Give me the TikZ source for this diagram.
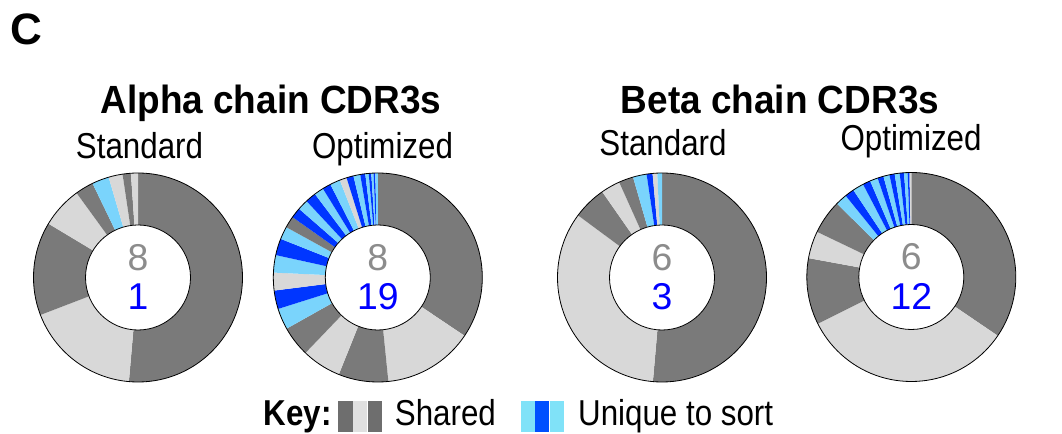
\documentclass[tikz,border=0pt]{standalone}
\usepackage{fontspec}
\setmainfont{Liberation Sans}
\usetikzlibrary{positioning}

\definecolor{sharedark}{HTML}{7A7A7A}
\definecolor{sharelight}{HTML}{D8D8D8}
\definecolor{uniqlight}{HTML}{7AD4FC}
\definecolor{uniqdark}{HTML}{0036FF}
\definecolor{keydark}{HTML}{6E6E6E}
\definecolor{keylight}{HTML}{E0E0E0}
\definecolor{keysky}{HTML}{80E2F8}
\definecolor{keyblue}{HTML}{0050FF}
\definecolor{numgrey}{HTML}{8C8C8C}
\definecolor{numblue}{HTML}{0000FF}

% narrow, tall lettering as in the figure
\newcommand{\narrowtext}[1]{\scalebox{0.87}[1]{#1}}
\newcommand{\titletext}[1]{\scalebox{0.94}[1]{#1}}

\begin{document}
\begin{tikzpicture}[
		x=0.75pt,y=0.75pt,
		every node/.style={inner sep=0pt},
		panel/.style={font=\bfseries\fontsize{33}{36}\selectfont},
		title/.style={font=\bfseries\fontsize{29.5}{33}\selectfont,anchor=base},
		subtitle/.style={font=\fontsize{27}{31}\selectfont,anchor=base},
		hole/.style={
			circle,
			draw=black,
			line width=0.6pt,
			fill=white,
			minimum size=78.75pt
		},
		count/.style={font=\fontsize{28}{31}\selectfont},
		ring/.style={draw=black,line width=0.6pt},
		swatch/.style={minimum width=10.6pt,minimum height=23.2pt},
		keytext/.style={font=\fontsize{27}{31}\selectfont,anchor=base west}
	]
	\useasboundingbox (0,0) rectangle (1062,434);
	
	\node[panel] (panelc) at (26.7,404.8) {C};
	\node[title] (alphatitle) at (271,320.7) {\titletext{Alpha chain CDR3s}};
	\node[title] (betatitle) at (780,320.7) {\titletext{Beta chain CDR3s}};
	\node[subtitle] (alphastd) at (139.5,275.7) {\narrowtext{Standard}};
	\node[subtitle] (alphaopt) at (382.5,275.7) {\narrowtext{Optimized}};
	\node[subtitle] (betastd) at (663,278) {\narrowtext{Standard}};
	\node[subtitle] (betaopt) at (911,283) {\narrowtext{Optimized}};
	
	% alpha, standard
	\begin{scope}[shift={(138,156.5)}]
		\foreach \b/\c [remember=\b as \a (initially 90)] in {
			-95/sharedark,-159/sharelight,-211/sharedark,-234/sharelight,
			-244.2/sharedark,-253.7/uniqlight,-261.5/sharelight,
			-266.1/sharedark,-270/sharelight}
		\fill[\c] (0,0) -- (\a:104.5) arc[start angle=\a,end angle=\b,radius=104.5] -- cycle;
		\draw[ring] (0,0) circle[radius=104.5];
	\end{scope}
	\node[hole] (alphastdhole) at (138,156.5) {};
	\node[count,text=numgrey] (alphastdshared) at ([yshift=15pt]alphastdhole.center) {8};
	\node[count,text=numblue] (alphastduniq) at ([yshift=-14.4pt]alphastdhole.center) {1};
	
	% alpha, optimized
	\begin{scope}[shift={(377.8,156.5)}]
		\foreach \b/\c [remember=\b as \a (initially 90)] in {
			-33.9/sharedark,-84.2/sharelight,-111.9/sharedark,-133.8/sharelight,
			-150.7/sharedark,-162.5/uniqlight,-172.8/uniqdark,-182.7/sharelight,
			-192.4/uniqlight,-201.7/uniqdark,-208.8/uniqlight,-215.3/sharedark,
			-221.1/uniqdark,-227/uniqlight,-233/uniqdark,-238.3/uniqlight,
			-243/uniqdark,-248.7/uniqlight,-252.6/sharelight,-256.5/uniqdark,
			-260.3/uniqlight,-263.1/uniqdark,-265/uniqlight,-266.4/uniqdark,
			-267.7/uniqlight,-268.6/uniqdark,-270/uniqlight}
		\fill[\c] (0,0) -- (\a:104.5) arc[start angle=\a,end angle=\b,radius=104.5] -- cycle;
		\draw[ring] (0,0) circle[radius=104.5];
	\end{scope}
	\node[hole] (alphaopthole) at (377.8,156.5) {};
	\node[count,text=numgrey] (alphaoptshared) at ([yshift=15pt]alphaopthole.center) {8};
	\node[count,text=numblue] (alphaoptuniq) at ([yshift=-14.4pt]alphaopthole.center) {19};
	
	% beta, standard
	\begin{scope}[shift={(662,156.5)}]
		\foreach \b/\c [remember=\b as \a (initially 90)] in {
			-95/sharedark,-216.5/sharelight,-235.1/sharedark,-245.8/sharelight,
			-253.9/sharedark,-261.5/uniqlight,-264.8/uniqdark,-267.4/sharelight,
			-270/uniqlight}
		\fill[\c] (0,0) -- (\a:104.5) arc[start angle=\a,end angle=\b,radius=104.5] -- cycle;
		\draw[ring] (0,0) circle[radius=104.5];
	\end{scope}
	\node[hole] (betastdhole) at (662,156.5) {};
	\node[count,text=numgrey] (betastdshared) at ([yshift=15pt]betastdhole.center) {6};
	\node[count,text=numblue] (betastduniq) at ([yshift=-14.4pt]betastdhole.center) {3};
	
	% beta, optimized
	\begin{scope}[shift={(911.3,157)}]
		\foreach \b/\c [remember=\b as \a (initially 90)] in {
			-34.2/sharedark,-153.4/sharelight,-190.4/sharedark,-205.6/sharelight,
			-224.6/sharedark,-231.1/uniqlight,-236.3/uniqdark,-242.5/uniqlight,
			-246.8/uniqdark,-251.2/uniqlight,-254.5/uniqdark,-257.9/uniqlight,
			-260.8/uniqdark,-263.6/uniqlight,-266/uniqdark,-268/uniqlight,
			-269/uniqdark,-270/sharelight}
		\fill[\c] (0,0) -- (\a:104.5) arc[start angle=\a,end angle=\b,radius=104.5] -- cycle;
		\draw[ring] (0,0) circle[radius=104.5];
	\end{scope}
	\node[hole] (betaopthole) at (911.3,157) {};
	\node[count,text=numgrey] (betaoptshared) at ([yshift=15pt]betaopthole.center) {6};
	\node[count,text=numblue] (betaoptuniq) at ([yshift=-14.4pt]betaopthole.center) {12};
	
	% key
	\node[keytext,font=\bfseries\fontsize{27}{31}\selectfont] (keylabel) at (263.6,8.5) {\narrowtext{Key:}};
	\node[swatch,fill=keydark,anchor=south west] (keyshare1) at (338.2,2) {};
	\node[swatch,fill=keylight,right=0pt of keyshare1] (keyshare2) {};
	\node[swatch,fill=keydark,right=0pt of keyshare2] (keyshare3) {};
	\node[keytext] (keyshared) at (394.6,8.5) {\narrowtext{Shared}};
	\node[swatch,fill=keysky,anchor=south west] (keyuniq1) at (520.4,2) {};
	\node[swatch,fill=keyblue,right=0pt of keyuniq1] (keyuniq2) {};
	\node[swatch,fill=keysky,right=0pt of keyuniq2] (keyuniq3) {};
	\node[keytext] (keyunique) at (577.9,8.5) {\narrowtext{Unique to sort}};
\end{tikzpicture}
\end{document}
